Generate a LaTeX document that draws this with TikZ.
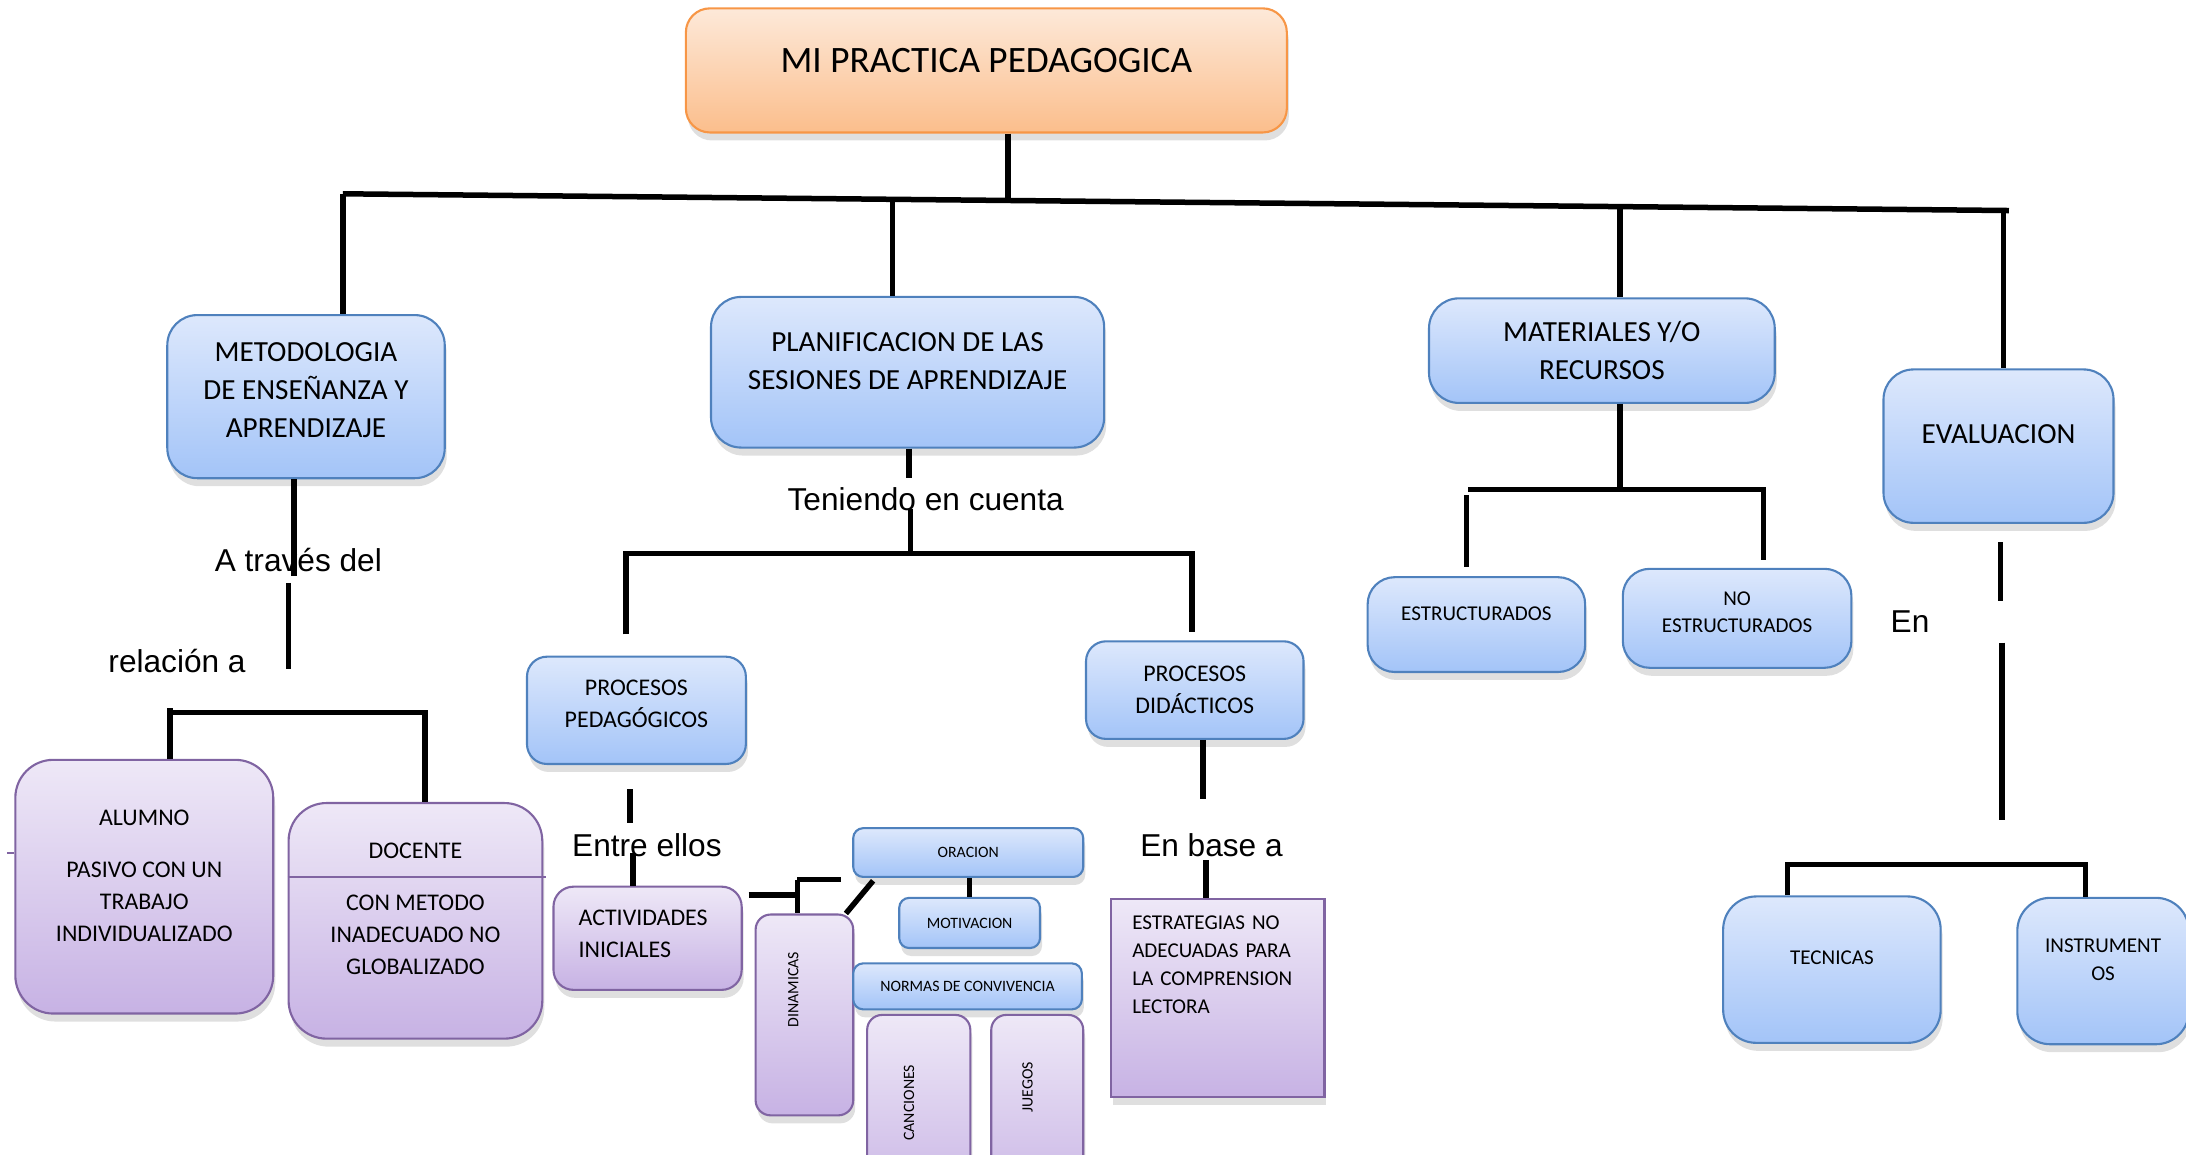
\documentclass[tikz,border=0pt]{standalone}
\usepackage{fontspec}
\setmainfont{Carlito}
\newfontfamily\arialfont{Liberation Sans}
\usetikzlibrary{shadows,calc}
\definecolor{bluebd}{RGB}{79,129,189}
\definecolor{bluetop}{RGB}{221,232,252}
\definecolor{bluebot}{RGB}{163,196,248}
\definecolor{purpbd}{RGB}{128,100,162}
\definecolor{purptop}{RGB}{238,232,247}
\definecolor{purpbot}{RGB}{199,178,228}
\definecolor{orbd}{RGB}{247,150,70}
\definecolor{ortop}{RGB}{253,233,217}
\definecolor{orbot}{RGB}{251,190,140}
% strut that pushes the text up inside its box
\newcommand{\dn}[1]{\rule[-#1]{0pt}{#1}}

\tikzset{
  box/.style={draw, line width=0.6pt, rounded corners=3mm, align=center, inner sep=0pt,
    drop shadow={opacity=0.25, shadow xshift=0.2mm, shadow yshift=-0.8mm}},
  bluebox/.style={box, draw=bluebd, top color=bluetop, bottom color=bluebot},
  purpbox/.style={box, draw=purpbd, top color=purptop, bottom color=purpbot},
  orbox/.style={box, draw=orbd, top color=ortop, bottom color=orbot},
  txtbig/.style={font=\fontsize{8.3}{10.9}\selectfont},
  txtmid/.style={font=\fontsize{6.8}{9.1}\selectfont},
  txtsmall/.style={font=\fontsize{6}{7.9}\selectfont},
  txttiny/.style={font=\fontsize{4.5}{5.5}\selectfont},
  lbl/.style={font=\arialfont\fontsize{9}{11}\selectfont, inner sep=0pt},
  conn/.style={line width=0.55mm, black},
  stub/.style={line width=0.6pt, purpbd}
}

\begin{document}
\begin{tikzpicture}[x=0.13941mm, y=-0.13941mm]
\useasboundingbox (0,0) rectangle (1568,828);

% main boxes
\node[orbox, rounded corners=2.4mm, minimum width=60.09mm, minimum height=12.41mm,
  font=\fontsize{10.6}{13}\selectfont] (titulo) at (707.5,50.5) {MI PRACTICA PEDAGOGICA\dn{2.1mm}};
\node[bluebox, txtbig, minimum width=27.74mm, minimum height=16.31mm] (metodo) at (219.5,284.5)
  {METODOLOGIA\\DE ENSEÑANZA Y\\APRENDIZAJE\dn{1.3mm}};
\node[bluebox, txtbig, minimum width=39.31mm, minimum height=15.06mm] (plan) at (651,267)
  {PLANIFICACION DE LAS\\SESIONES DE APRENDIZAJE\dn{2.2mm}};
\node[bluebox, txtbig, minimum width=34.57mm, minimum height=10.46mm] (mat) at (1149,251.5)
  {MATERIALES Y/O\\RECURSOS};
\node[bluebox, txtbig, minimum width=23mm, minimum height=15.34mm] (eval) at (1433.5,320)
  {EVALUACION\dn{2.5mm}};

% metodologia branch
\node[purpbox, txtmid, rounded corners=3.8mm, minimum width=25.79mm, minimum height=25.37mm]
  (alumno) at (103.5,636) {ALUMNO\\[5.9pt]PASIVO CON UN\\TRABAJO\\INDIVIDUALIZADO\dn{2.2mm}};
\node[purpbox, txtmid, rounded corners=3.8mm, minimum width=25.37mm, minimum height=23.56mm]
  (docente) at (298,660.5) {DOCENTE\\[5.9pt]CON METODO\\INADECUADO NO\\GLOBALIZADO\dn{2.4mm}};
\draw[stub] ($(docente.north west)!0.314!(docente.south west)$) -- ($(docente.north east)!0.314!(docente.south east)+(2,0)$);

% planificacion branch
\node[bluebox, txtmid, rounded corners=2mm, minimum width=21.89mm, minimum height=10.73mm]
  (pped) at (456.5,509.5) {PROCESOS\\PEDAGÓGICOS\dn{1.4mm}};
\node[bluebox, txtmid, rounded corners=2mm, minimum width=21.75mm, minimum height=9.76mm]
  (pdid) at (857,495) {PROCESOS\\DIDÁCTICOS};
\node[purpbox, txtmid, rounded corners=2mm, align=left, text width=13.8mm,
  minimum width=18.82mm, minimum height=10.32mm] (activ) at (464.5,673)
  {ACTIVIDADES\\INICIALES\dn{1mm}};
\node[purpbox, rounded corners=1.5mm, minimum width=9.76mm, minimum height=20.08mm]
  (dinam) at (577,728) {};
\node[txttiny, rotate=90] (dinamtxt) at (569,710) {DINAMICAS};
\node[bluebox, txttiny, rounded corners=1mm, minimum width=23mm, minimum height=4.88mm]
  (orac) at (694.5,611.5) {ORACION};
\node[bluebox, txttiny, rounded corners=1mm, minimum width=14.08mm, minimum height=5.02mm]
  (motiv) at (695.5,662) {MOTIVACION};
\node[bluebox, txttiny, rounded corners=1mm, minimum width=22.86mm, minimum height=4.6mm]
  (normas) at (694,707.5) {NORMAS DE CONVIVENCIA};
\node[purpbox, rounded corners=1.5mm, minimum width=10.32mm, minimum height=20.08mm]
  (canc) at (659,800) {};
\node[txttiny, rotate=90] (canctxt) at (652,791) {CANCIONES};
\node[purpbox, rounded corners=1.5mm, minimum width=9.2mm, minimum height=20.08mm]
  (juegos) at (744,800) {};
\node[txttiny, rotate=90] (juegostxt) at (737,780) {JUEGOS};
\node[purpbox, txtsmall, sharp corners, align=left, text width=17.1mm,
  minimum width=21.33mm, minimum height=19.8mm] (estrat) at (873.5,716)
  {ESTRATEGIAS NO\\ADECUADAS PARA\\LA COMPRENSION\\LECTORA\dn{6.7mm}};

% materiales branch
\node[bluebox, txtsmall, rounded corners=2.7mm, minimum width=21.75mm, minimum height=9.48mm]
  (estruc) at (1059,448) {ESTRUCTURADOS\dn{2.2mm}};
\node[bluebox, txtsmall, rounded corners=2.7mm, minimum width=22.86mm, minimum height=9.9mm]
  (noestruc) at (1246,443.5) {NO\\ESTRUCTURADOS\dn{1.25mm}};

% evaluacion branch
\node[bluebox, txtsmall, rounded corners=3.3mm, minimum width=21.75mm, minimum height=14.64mm]
  (tecn) at (1314,695.5) {TECNICAS\dn{2.4mm}};
\node[bluebox, txtsmall, rounded corners=3.3mm, minimum width=17.15mm, minimum height=14.64mm]
  (instr) at (1508.5,696.5) {INSTRUMENT\\OS\dn{2.2mm}};

% linking words
\node[lbl] (atraves) at (214,402) {A través del};
\node[lbl] (relacion) at (127,474) {relación a};
\node[lbl] (teniendo) at (664,358) {Teniendo en cuenta};
\node[lbl] (entre) at (464,606) {Entre ellos};
\node[lbl] (enbase) at (869,606) {En base a};
\node[lbl] (en) at (1370,446) {En};

% top bus
\coordinate (busL) at (246,139);
\coordinate (busR) at (1441,151);
\coordinate (tb) at (723,143.8);
\coordinate (b2) at (640,143);
\coordinate (b3) at (1162,148.2);
\coordinate (b4) at (1437,151);
\draw[conn] (tb |- titulo.south) -- (tb);
\draw[conn] (busL) -- (busR);
\draw[conn] (busL) -- (busL |- metodo.north);
\draw[conn] (b2) -- (b2 |- plan.north);
\draw[conn] (b3) -- (b3 |- mat.north);
\draw[conn] (b4) -- (b4 |- eval.north);

% under metodologia
\coordinate (m1) at (211,413);
\coordinate (m2) at (207,418);
\coordinate (m3) at (207,480);
\coordinate (a1) at (122,511);
\coordinate (a2) at (305,511);
\draw[conn] (m1 |- metodo.south) -- (m1);
\draw[conn] (m2) -- (m3);
\draw[conn] (a1 |- alumno.north) -- ($(a1)+(0,-3)$);
\draw[conn] (a1) -- (a2) -- (a2 |- docente.north);
\coordinate (s0) at (5,612);
\draw[stub] (s0) -- (s0 -| alumno.west);

% under planificacion
\coordinate (p1) at (652,343);
\coordinate (p2) at (653,365);
\coordinate (pL) at (449,397);
\coordinate (pR) at (855,397);
\draw[conn] (plan.south -| p1) -- (p1);
\draw[conn] (p2) -- (p2 |- pL);
\draw[conn] (449,455) -- (pL) -- (pR) -- (855,453);

% under procesos pedagogicos
\coordinate (e1) at (452,566);
\coordinate (e2) at (452,590);
\coordinate (e3) at (454,612);
\draw[conn] (e1) -- (e2);
\draw[conn] (e3) -- (e3 |- activ.north);
\coordinate (k0) at (537,642);
\coordinate (k1) at (572,642);
\coordinate (k2) at (572,631);
\coordinate (k3) at (603,631);
\draw[conn] (k0) -- (k1);
\draw[conn] (k2) -- (k2 |- dinam.north);
\draw[conn] (k2) -- (k3);
\draw[conn] ($(dinam.north east)+(-6,0)$) -- ($(orac.south west)+(15,2)$);
\draw[conn] (motiv.north |- orac.south) -- (motiv.north);

% under procesos didacticos
\coordinate (d1) at (863,573);
\coordinate (d2) at (865,617);
\draw[conn] (d1 |- pdid.south) -- (d1);
\draw[conn] (d2) -- (d2 |- estrat.north);

% under materiales
\coordinate (r0) at (1162,351);
\coordinate (rL) at (1053,351);
\coordinate (rR) at (1265,351);
\draw[conn] (r0 |- mat.south) -- (r0);
\draw[conn] (rL) -- (rR) -- (1265,402);
\draw[conn] (1052,355) -- (1052,407);

% under evaluacion
\coordinate (v1) at (1435,389);
\coordinate (v2) at (1435,431);
\coordinate (v3) at (1436,461);
\coordinate (v4) at (1436,588);
\coordinate (tL) at (1282,620);
\coordinate (tR) at (1496,620);
\draw[conn] (v1) -- (v2);
\draw[conn] (v3) -- (v4);
\draw[conn] (tL |- tecn.north) -- (tL) -- (tR) -- (tR |- instr.north);
\end{tikzpicture}
\end{document}
